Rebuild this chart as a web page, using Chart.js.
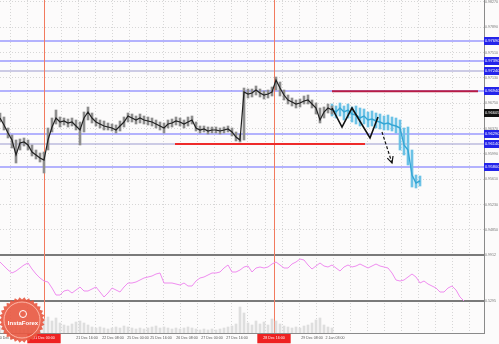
<!DOCTYPE html>
<html>
<head>
<meta charset="utf-8">
<script src="https://cdn.jsdelivr.net/npm/chart.js@4.4.0/dist/chart.umd.min.js"></script>
<style>
  html, body { margin: 0; padding: 0; background: #fcfbfb; }
  #wrap { width: 499px; height: 344px; }
</style>
</head>
<body>
<div id="wrap"><canvas id="chart" width="499" height="344"></canvas></div>
<script>
// price axis labels
const priceTicks = [0.98270, 0.98080, 0.97890, 0.97700, 0.97510, 0.97320, 0.97130, 0.96940, 0.96750, 0.96560,
    0.96370, 0.96180, 0.95990, 0.95800, 0.95610, 0.95420, 0.95230, 0.95040, 0.94850, 0.94660];
const priceMin = 0.94490;
const priceMax = 0.98300;

// history (bar index 0..83)
const blackClose = [0.96530, 0.96425, 0.96305, 0.96200, 0.95975, 0.96155, 0.96170, 0.96125, 0.96020, 0.95975,
    0.95930, 0.95900, 0.96200, 0.96395, 0.96530, 0.96470, 0.96485, 0.96455, 0.96470, 0.96410,
    0.96350, 0.96530, 0.96620, 0.96530, 0.96470, 0.96440, 0.96410, 0.96395, 0.96380, 0.96350,
    0.96410, 0.96470, 0.96560, 0.96530, 0.96500, 0.96530, 0.96500, 0.96485, 0.96470, 0.96440,
    0.96410, 0.96380, 0.96440, 0.96455, 0.96485, 0.96470, 0.96440, 0.96470, 0.96500, 0.96380,
    0.96350, 0.96365, 0.96335, 0.96350, 0.96350, 0.96335, 0.96350, 0.96365, 0.96320, 0.96245,
    0.96200, 0.96920, 0.96890, 0.96905, 0.96950, 0.96905, 0.96875, 0.96890, 0.96920, 0.97100,
    0.96980, 0.96875, 0.96800, 0.96770, 0.96740, 0.96755, 0.96785, 0.96800, 0.96740, 0.96680,
    0.96500, 0.96620, 0.96680, 0.96650];
const blackHigh = [0.96605, 0.96545, 0.96380, 0.96275, 0.96200, 0.96215, 0.96230, 0.96200, 0.96125, 0.96050,
    0.96005, 0.96020, 0.96380, 0.96530, 0.96650, 0.96545, 0.96530, 0.96515, 0.96530, 0.96500,
    0.96470, 0.96620, 0.96695, 0.96605, 0.96530, 0.96500, 0.96485, 0.96455, 0.96440, 0.96425,
    0.96485, 0.96545, 0.96605, 0.96590, 0.96560, 0.96590, 0.96560, 0.96545, 0.96530, 0.96500,
    0.96470, 0.96455, 0.96500, 0.96515, 0.96545, 0.96530, 0.96500, 0.96545, 0.96560, 0.96470,
    0.96410, 0.96410, 0.96395, 0.96395, 0.96395, 0.96380, 0.96395, 0.96410, 0.96380, 0.96320,
    0.96290, 0.96980, 0.96965, 0.96965, 0.97010, 0.96965, 0.96935, 0.96950, 0.96995, 0.97145,
    0.97070, 0.96950, 0.96875, 0.96830, 0.96800, 0.96815, 0.96860, 0.96875, 0.96800, 0.96755,
    0.96680, 0.96695, 0.96740, 0.96710];
const blackLow = [0.96470, 0.96350, 0.96230, 0.96080, 0.95855, 0.96050, 0.96110, 0.96050, 0.95960, 0.95915,
    0.95870, 0.95705, 0.96050, 0.96320, 0.96440, 0.96395, 0.96425, 0.96395, 0.96410, 0.96350,
    0.96125, 0.96320, 0.96500, 0.96455, 0.96410, 0.96380, 0.96350, 0.96350, 0.96335, 0.96305,
    0.96335, 0.96395, 0.96470, 0.96470, 0.96440, 0.96455, 0.96440, 0.96425, 0.96410, 0.96380,
    0.96350, 0.96305, 0.96380, 0.96395, 0.96425, 0.96410, 0.96380, 0.96410, 0.96440, 0.96335,
    0.96305, 0.96320, 0.96290, 0.96305, 0.96305, 0.96290, 0.96305, 0.96320, 0.96260, 0.96185,
    0.96170, 0.96200, 0.96830, 0.96845, 0.96875, 0.96845, 0.96815, 0.96830, 0.96860, 0.96950,
    0.96860, 0.96800, 0.96740, 0.96710, 0.96680, 0.96695, 0.96740, 0.96740, 0.96680, 0.96590,
    0.96455, 0.96530, 0.96605, 0.96590];

// actual move drawn afterwards (starts at bar 83)
const cyanStart = 83;
const cyanClose = [0.96650, 0.96620, 0.96680, 0.96620, 0.96650, 0.96590, 0.96575, 0.96530, 0.96560, 0.96500,
    0.96515, 0.96485, 0.96470, 0.96440, 0.96455, 0.96425, 0.96410, 0.96380, 0.96125, 0.96050,
    0.95675, 0.95555, 0.95585];
const cyanHigh = [0.96740, 0.96710, 0.96755, 0.96710, 0.96740, 0.96695, 0.96710, 0.96680, 0.96665, 0.96620,
    0.96635, 0.96605, 0.96590, 0.96560, 0.96575, 0.96545, 0.96530, 0.96500, 0.96380, 0.96395,
    0.96050, 0.95675, 0.95660];
const cyanLow = [0.96560, 0.96530, 0.96560, 0.96500, 0.96530, 0.96470, 0.96440, 0.96410, 0.96440, 0.96395,
    0.96410, 0.96380, 0.96365, 0.96350, 0.96350, 0.96335, 0.96305, 0.96050, 0.95975, 0.95825,
    0.95495, 0.95480, 0.95510];

// levels
const supportResistance = [0.97690, 0.97390, 0.96940, 0.96290, 0.95800];
const pivotLevels = [0.97240, 0.96140];
const lastPrice = 0.96605;
const supportSegX = [43.75, 91.25];
const supportSegY = 0.96140;
const resistSegX = [83, 119.5];
const resistSegY = 0.96930;

// hand drawn pattern + arrow
const zigzagX = [83, 85.5, 88, 92.5, 94.5];
const zigzagY = [0.96680, 0.96395, 0.96680, 0.96230, 0.96545];
const arrowX = [95.5, 98];
const arrowY = [0.96320, 0.95855];
const arrowHeadX = [96.83, 98, 98.26];
const arrowHeadY = [0.95927, 0.95855, 0.95960];

// oscillator + volume
const indLevels = [0.9912, 0.5295];
const indValues = [0.92, 0.88, 0.84, 0.81, 0.83, 0.86, 0.89, 0.91, 0.85, 0.80,
    0.76, 0.73, 0.72, 0.66, 0.59, 0.59, 0.63, 0.64, 0.61, 0.64,
    0.67, 0.63, 0.63, 0.65, 0.67, 0.62, 0.57, 0.61, 0.66, 0.64,
    0.62, 0.67, 0.71, 0.71, 0.72, 0.74, 0.76, 0.77, 0.78, 0.80,
    0.81, 0.71, 0.71, 0.71, 0.70, 0.69, 0.71, 0.68, 0.68, 0.73,
    0.76, 0.77, 0.79, 0.81, 0.81, 0.82, 0.86, 0.89, 0.82, 0.82,
    0.84, 0.87, 0.88, 0.82, 0.86, 0.87, 0.86, 0.87, 0.90, 0.92,
    0.89, 0.86, 0.86, 0.90, 0.92, 0.95, 0.94, 0.89, 0.85, 0.88,
    0.91, 0.88, 0.87, 0.89, 0.86, 0.83, 0.87, 0.89, 0.87, 0.88,
    0.90, 0.88, 0.86, 0.88, 0.90, 0.88, 0.87, 0.86, 0.81, 0.74,
    0.73, 0.74, 0.77, 0.80, 0.77, 0.71, 0.73, 0.70, 0.68, 0.66,
    0.62, 0.62, 0.66, 0.68, 0.64, 0.57, 0.53];
const volumes = [6, 5, 7, 6, 8, 5, 4, 6, 5, 7, 9, 14, 16, 12, 15, 10, 8, 7, 9, 11,
    12, 10, 8, 6, 5, 6, 5, 4, 5, 6, 5, 7, 6, 5, 4, 5, 4, 5, 6, 7,
    5, 6, 5, 4, 5, 4, 5, 6, 5, 4, 3, 4, 3, 4, 3, 4, 5, 6, 7, 9,
    26, 20, 10, 8, 12, 9, 11, 8, 14, 12, 9, 7, 6, 5, 6, 5, 7, 8, 10, 13,
    15, 8, 6, 5];

// time axis
const xMax = 121;
const markerBars = [11, 68.5];
const xTickPos = [2, 11, 21.75, 28.25, 34.5, 40.25, 46.75, 53, 59.25, 68.5, 78, 83.75];
const xTickLabels = ["20 Dec 2017", "21 Dec 00:00", "21 Dec 16:00", "22 Dec 08:00", "25 Dec 00:00", "25 Dec 16:00",
    "26 Dec 08:00", "27 Dec 00:00", "27 Dec 16:00", "28 Dec 16:00", "29 Dec 08:00", "2 Jan 03:00"];
const markedTicks = [1, 9];

const gridStart = 2.5;
const gridStep = 4.25;
const tinyFont = { family: "'Liberation Sans', sans-serif", size: 3.6 };

function seg(xs, ys) {
    return xs.map((x, i) => ({ x: x, y: Array.isArray(ys) ? ys[i] : ys }));
}

const overlays = {
    id: "overlays",
    beforeDatasetsDraw(chart) {
        const { ctx, chartArea: a, scales } = chart;
        ctx.save();
        const hline = (v, color, width, scale) => {
            const y = Math.round(scale.getPixelForValue(v));
            ctx.strokeStyle = color;
            ctx.lineWidth = width;
            ctx.beginPath();
            ctx.moveTo(a.left, y);
            ctx.lineTo(a.right, y);
            ctx.stroke();
        };
        // soft 2px look like the screenshot
        supportResistance.forEach((v) => hline(v, "#6a6aff", 1.2, scales.y));
        pivotLevels.forEach((v) => hline(v, "#9c9cd0", 1.2, scales.y));
        indLevels.forEach((v) => hline(v, "#7a7a7a", 2, scales.yInd));

        markerBars.forEach((b) => {
            const x = Math.round(scales.x.getPixelForValue(b)) + 0.5;
            ctx.strokeStyle = "#f27a5e";
            ctx.lineWidth = 1;
            ctx.beginPath();
            ctx.moveTo(x, a.top);
            ctx.lineTo(x, a.bottom);
            ctx.stroke();
        });
        ctx.restore();
    },
    afterDraw(chart) {
        const { ctx, chartArea: a, scales } = chart;
        ctx.save();
        ctx.font = "4px 'Liberation Sans', sans-serif";
        ctx.textAlign = "left";
        ctx.textBaseline = "middle";
        const box = (v, bg) => {
            const y = Math.round(scales.y.getPixelForValue(v));
            ctx.fillStyle = bg;
            ctx.fillRect(a.right, y - 4, 15, 8);
            ctx.fillStyle = "#ffffff";
            ctx.fillText(v.toFixed(5), a.right + 1, y);
        };
        supportResistance.concat(pivotLevels).forEach((v) => box(v, "#2424ea"));
        box(lastPrice, "#111111");
        ctx.restore();

        // InstaForex seal
        const cx = 22, cy = 320, r = 23;
        ctx.save();
        ctx.globalAlpha = 0.9;
        ctx.fillStyle = "#e8563f";
        ctx.beginPath();
        const spikes = 30;
        for (let k = 0; k < spikes * 2; k++) {
            const ang = (Math.PI * k) / spikes;
            const rr = k % 2 ? r - 2.5 : r;
            ctx.lineTo(cx + rr * Math.cos(ang), cy + rr * Math.sin(ang));
        }
        ctx.closePath();
        ctx.fill();
        ctx.globalAlpha = 1;
        ctx.strokeStyle = "rgba(255,190,175,0.9)";
        ctx.lineWidth = 1;
        ctx.beginPath();
        ctx.arc(cx, cy, r - 5, 0, Math.PI * 2);
        ctx.stroke();
        ctx.strokeStyle = "#ffffff";
        ctx.beginPath();
        ctx.arc(cx + 1, cy - 6, 3.5, 0, Math.PI * 2);
        ctx.stroke();
        ctx.fillStyle = "#ffffff";
        ctx.font = "bold 6px 'Liberation Sans', sans-serif";
        ctx.textAlign = "center";
        ctx.textBaseline = "middle";
        ctx.fillText("InstaForex", cx + 1, cy + 3);
        ctx.restore();
    }
};

const ctx = document.getElementById("chart").getContext("2d");

new Chart(ctx, {
    type: "line",
    data: {
        datasets: [
            {
                type: "bar",
                data: blackHigh.map((h, i) => ({ x: i, y: [blackLow[i], h] })),
                backgroundColor: "#8e8e8e",
                barThickness: 2,
                grouped: false,
                yAxisID: "y",
                order: 6,
            },
            {
                data: blackClose.map((c, i) => ({ x: i, y: c })),
                borderColor: "#202020",
                borderWidth: 1.2,
                pointRadius: 0,
                yAxisID: "y",
                order: 5,
            },
            {
                type: "bar",
                data: cyanHigh.map((h, i) => ({ x: cyanStart + i, y: [cyanLow[i], h] })),
                backgroundColor: "#6cc2e6",
                barThickness: 2,
                grouped: false,
                yAxisID: "y",
                order: 6,
            },
            {
                data: cyanClose.map((c, i) => ({ x: cyanStart + i, y: c })),
                borderColor: "#36a6d4",
                borderWidth: 1.4,
                pointRadius: 0,
                yAxisID: "y",
                order: 5,
            },
            {
                data: seg(supportSegX, supportSegY),
                borderColor: "#ee2a2a",
                borderWidth: 2,
                pointRadius: 0,
                yAxisID: "y",
                order: 7,
            },
            {
                data: seg(resistSegX, resistSegY),
                borderColor: "#b81c44",
                borderWidth: 2,
                pointRadius: 0,
                yAxisID: "y",
                order: 7,
            },
            {
                data: seg(zigzagX, zigzagY),
                borderColor: "#111111",
                borderWidth: 1.6,
                pointRadius: 0,
                yAxisID: "y",
                order: 1,
            },
            {
                data: seg(arrowX, arrowY),
                borderColor: "#111111",
                borderWidth: 1.2,
                borderDash: [3, 2],
                pointRadius: 0,
                yAxisID: "y",
                order: 1,
            },
            {
                data: seg(arrowHeadX, arrowHeadY),
                borderColor: "#111111",
                borderWidth: 1.2,
                pointRadius: 0,
                yAxisID: "y",
                order: 1,
            },
            {
                data: indValues.map((v, i) => ({ x: i, y: v })),
                borderColor: "#ef8cef",
                borderWidth: 1,
                pointRadius: 0,
                yAxisID: "yInd",
                order: 2,
            },
            {
                type: "bar",
                data: volumes.map((v, i) => ({ x: i, y: v })),
                backgroundColor: "#dedede",
                barThickness: 2,
                grouped: false,
                yAxisID: "yVol",
                order: 8,
            },
        ],
    },
    options: {
        responsive: false,
        animation: false,
        events: [],
        layout: { padding: 0 },
        plugins: {
            legend: { display: false },
            tooltip: { enabled: false },
        },
        scales: {
            x: {
                type: "linear",
                position: "bottom",
                min: 0,
                max: xMax,
                offset: false,
                grid: { display: false, offset: false, drawTicks: false },
                border: { color: "#8a8a8a" },
                afterBuildTicks: (s) => { s.ticks = xTickPos.map((v) => ({ value: v })); },
                afterFit: (s) => { s.height = 11; s.paddingLeft = 0; s.paddingRight = 0; },
                ticks: {
                    autoSkip: false,
                    maxRotation: 0,
                    minRotation: 0,
                    padding: 3,
                    font: tinyFont,
                    color: (c) => (markedTicks.includes(c.index) ? "#ffffff" : "#555555"),
                    showLabelBackdrop: true,
                    backdropColor: (c) => (markedTicks.includes(c.index) ? "#ee2222" : "rgba(0,0,0,0)"),
                    backdropPadding: { left: 6, right: 6, top: 2, bottom: 3 },
                    callback: (v, i) => xTickLabels[i],
                },
            },
            xg: {
                type: "linear",
                position: "top",
                min: 0,
                max: xMax,
                offset: false,
                afterBuildTicks: (s) => {
                    const t = [];
                    for (let v = gridStart; v < xMax; v += gridStep) t.push({ value: v });
                    s.ticks = t;
                },
                afterFit: (s) => { s.height = 0; s.paddingLeft = 0; s.paddingRight = 0; },
                ticks: { display: false },
                grid: { color: "#d6d6d6", drawTicks: false, offset: false },
                border: { display: false, dash: [1, 2] },
            },
            y: {
                type: "linear",
                position: "right",
                stack: "panes",
                stackWeight: 254,
                min: priceMin,
                max: priceMax,
                afterBuildTicks: (s) => { s.ticks = priceTicks.map((v) => ({ value: v })); },
                afterFit: (s) => { s.width = 15; s.paddingTop = 0; s.paddingBottom = 0; },
                grid: { color: "#d6d6d6", drawTicks: false },
                border: { color: "#8a8a8a", dash: [1, 2] },
                ticks: { font: tinyFont, color: "#777777", padding: 1, callback: (v) => v.toFixed(5) },
            },
            yInd: {
                type: "linear",
                position: "right",
                stack: "panes",
                stackWeight: 48,
                min: 0.52,
                max: 1.0,
                afterBuildTicks: (s) => { s.ticks = indLevels.map((v) => ({ value: v })); },
                afterFit: (s) => { s.width = 15; s.paddingTop = 0; s.paddingBottom = 0; },
                grid: { display: false, drawTicks: false },
                border: { color: "#8a8a8a" },
                ticks: { font: tinyFont, color: "#777777", padding: 1, callback: (v) => v.toFixed(4) },
            },
            yVol: {
                type: "linear",
                position: "right",
                stack: "panes",
                stackWeight: 31,
                min: 0,
                max: 31,
                afterFit: (s) => { s.width = 15; s.paddingTop = 0; s.paddingBottom = 0; },
                grid: { display: false, drawTicks: false },
                border: { color: "#8a8a8a" },
                ticks: { display: false },
            },
        },
    },
    plugins: [overlays],
});
</script>
</body>
</html>
